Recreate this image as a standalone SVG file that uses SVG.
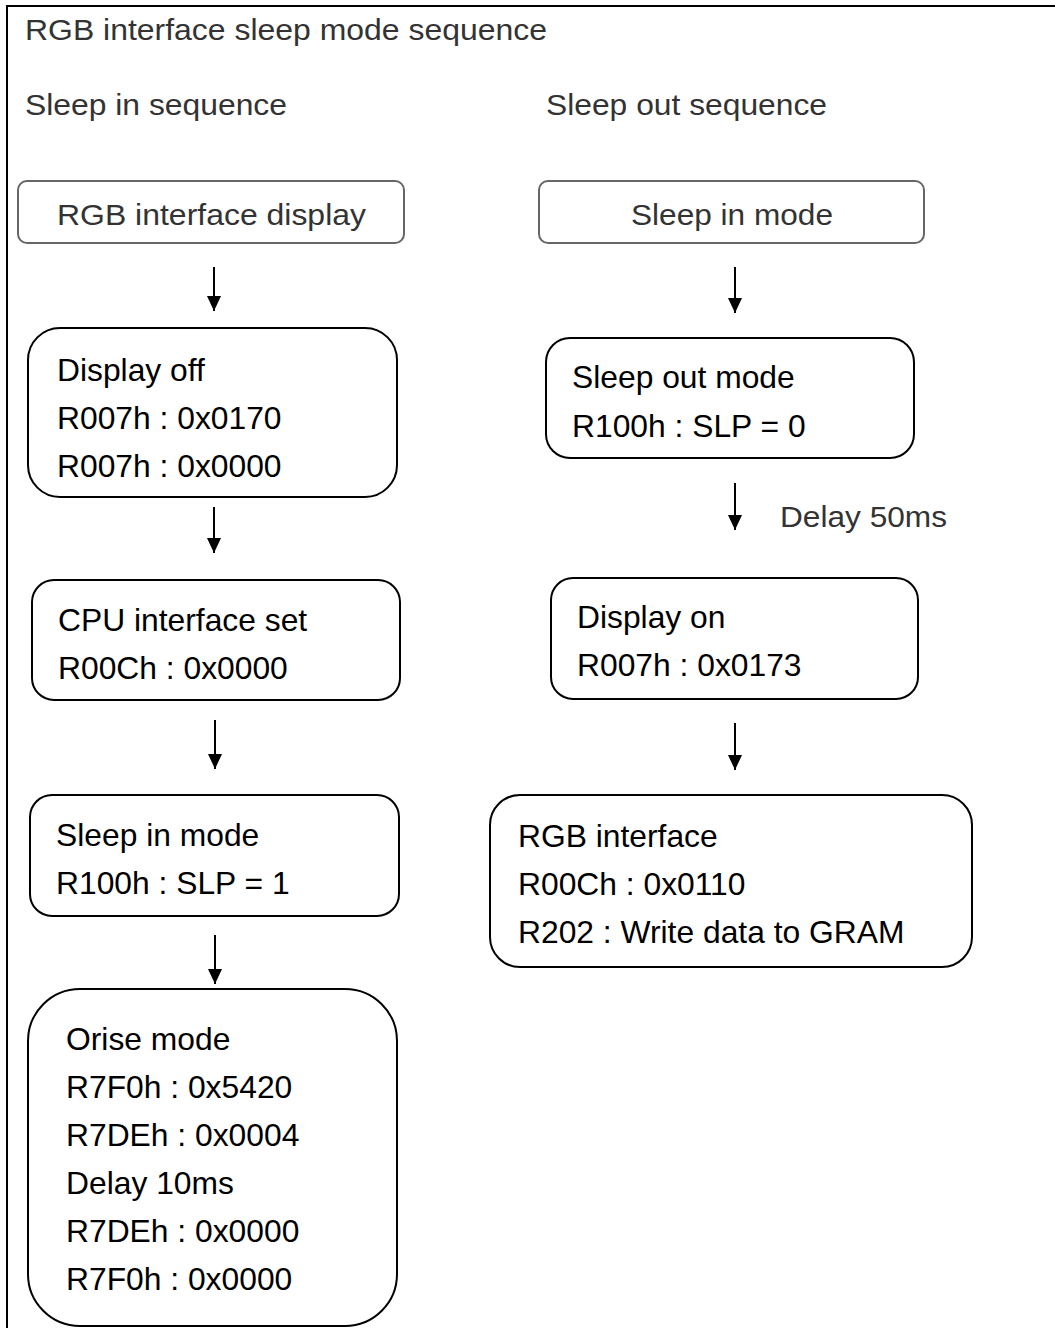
<svg xmlns="http://www.w3.org/2000/svg" width="1055" height="1328" viewBox="0 0 1055 1328">
<style>
.gray{font-family:"Liberation Sans",Arial,sans-serif;font-size:29px;fill:#333}
.t{font-family:"Liberation Sans",Arial,sans-serif;font-size:31.8px;fill:#000}
.box{fill:#fff;stroke:#000;stroke-width:2}
.gbox{fill:#fff;stroke:#666;stroke-width:2}
.conn line{stroke:#000;stroke-width:2}
</style>
<defs>
<marker id="ad" markerUnits="userSpaceOnUse" markerWidth="14" markerHeight="16" viewBox="0 0 14 16" refX="7" refY="15" orient="0">
<path d="M0,0 L14,0 L7,15 Z" fill="#000"/>
</marker>
</defs>
<rect width="1055" height="1328" fill="#fff"/>
<path d="M7,1328 V6 H1055" fill="none" stroke="#000" stroke-width="2"/>
<text class="gray" x="25" y="40" textLength="522" lengthAdjust="spacingAndGlyphs">RGB interface sleep mode sequence</text>
<text class="gray" x="25" y="115" textLength="262" lengthAdjust="spacingAndGlyphs">Sleep in sequence</text>
<text class="gray" x="546" y="115" textLength="281" lengthAdjust="spacingAndGlyphs">Sleep out sequence</text>

<g id="rgb-display">
<rect class="gbox" x="18" y="181" width="386" height="62" rx="9"/>
<text class="gray" x="57" y="225" textLength="309" lengthAdjust="spacingAndGlyphs">RGB interface display</text>
</g>
<g id="sleep-in-top">
<rect class="gbox" x="539" y="181" width="385" height="62" rx="9"/>
<text class="gray" x="631" y="225" textLength="202" lengthAdjust="spacingAndGlyphs">Sleep in mode</text>
</g>
<g id="display-off">
<rect class="box" x="28" y="328" width="369" height="169" rx="32"/>
<text class="t" x="57" y="381">Display off</text>
<text class="t" x="57" y="429">R007h : 0x0170</text>
<text class="t" x="57" y="477">R007h : 0x0000</text>
</g>
<g id="cpu-interface">
<rect class="box" x="32" y="580" width="368" height="120" rx="22"/>
<text class="t" x="58" y="631">CPU interface set</text>
<text class="t" x="58" y="679">R00Ch : 0x0000</text>
</g>
<g id="sleep-in-mode">
<rect class="box" x="30" y="795" width="369" height="121" rx="22"/>
<text class="t" x="56" y="846">Sleep in mode</text>
<text class="t" x="56" y="894">R100h : SLP = 1</text>
</g>
<g id="orise-mode">
<rect class="box" x="28" y="989" width="369" height="337" rx="52"/>
<text class="t" x="66" y="1050">Orise mode</text>
<text class="t" x="66" y="1098">R7F0h : 0x5420</text>
<text class="t" x="66" y="1146">R7DEh : 0x0004</text>
<text class="t" x="66" y="1194">Delay 10ms</text>
<text class="t" x="66" y="1242">R7DEh : 0x0000</text>
<text class="t" x="66" y="1290">R7F0h : 0x0000</text>
</g>
<g id="sleep-out-mode">
<rect class="box" x="546" y="338" width="368" height="120" rx="24"/>
<text class="t" x="572" y="388">Sleep out mode</text>
<text class="t" x="572" y="437">R100h : SLP = 0</text>
</g>
<g id="display-on">
<rect class="box" x="551" y="578" width="367" height="121" rx="22"/>
<text class="t" x="577" y="628">Display on</text>
<text class="t" x="577" y="676">R007h : 0x0173</text>
</g>
<g id="rgb-interface">
<rect class="box" x="490" y="795" width="482" height="172" rx="30"/>
<text class="t" x="518" y="847">RGB interface</text>
<text class="t" x="518" y="895">R00Ch : 0x0110</text>
<text class="t" x="518" y="943">R202 : Write data to GRAM</text>
</g>

<g class="conn" id="connectors">
<line x1="214" y1="267" x2="214" y2="311" marker-end="url(#ad)"/>
<line x1="214" y1="507" x2="214" y2="553" marker-end="url(#ad)"/>
<line x1="215" y1="720" x2="215" y2="769" marker-end="url(#ad)"/>
<line x1="215" y1="935" x2="215" y2="984" marker-end="url(#ad)"/>
<line x1="735" y1="267" x2="735" y2="313" marker-end="url(#ad)"/>
<line x1="735" y1="483" x2="735" y2="530" marker-end="url(#ad)"/>
<line x1="735" y1="723" x2="735" y2="770" marker-end="url(#ad)"/>
</g>
<text class="gray" x="780" y="527" textLength="167" lengthAdjust="spacingAndGlyphs">Delay 50ms</text>
</svg>
